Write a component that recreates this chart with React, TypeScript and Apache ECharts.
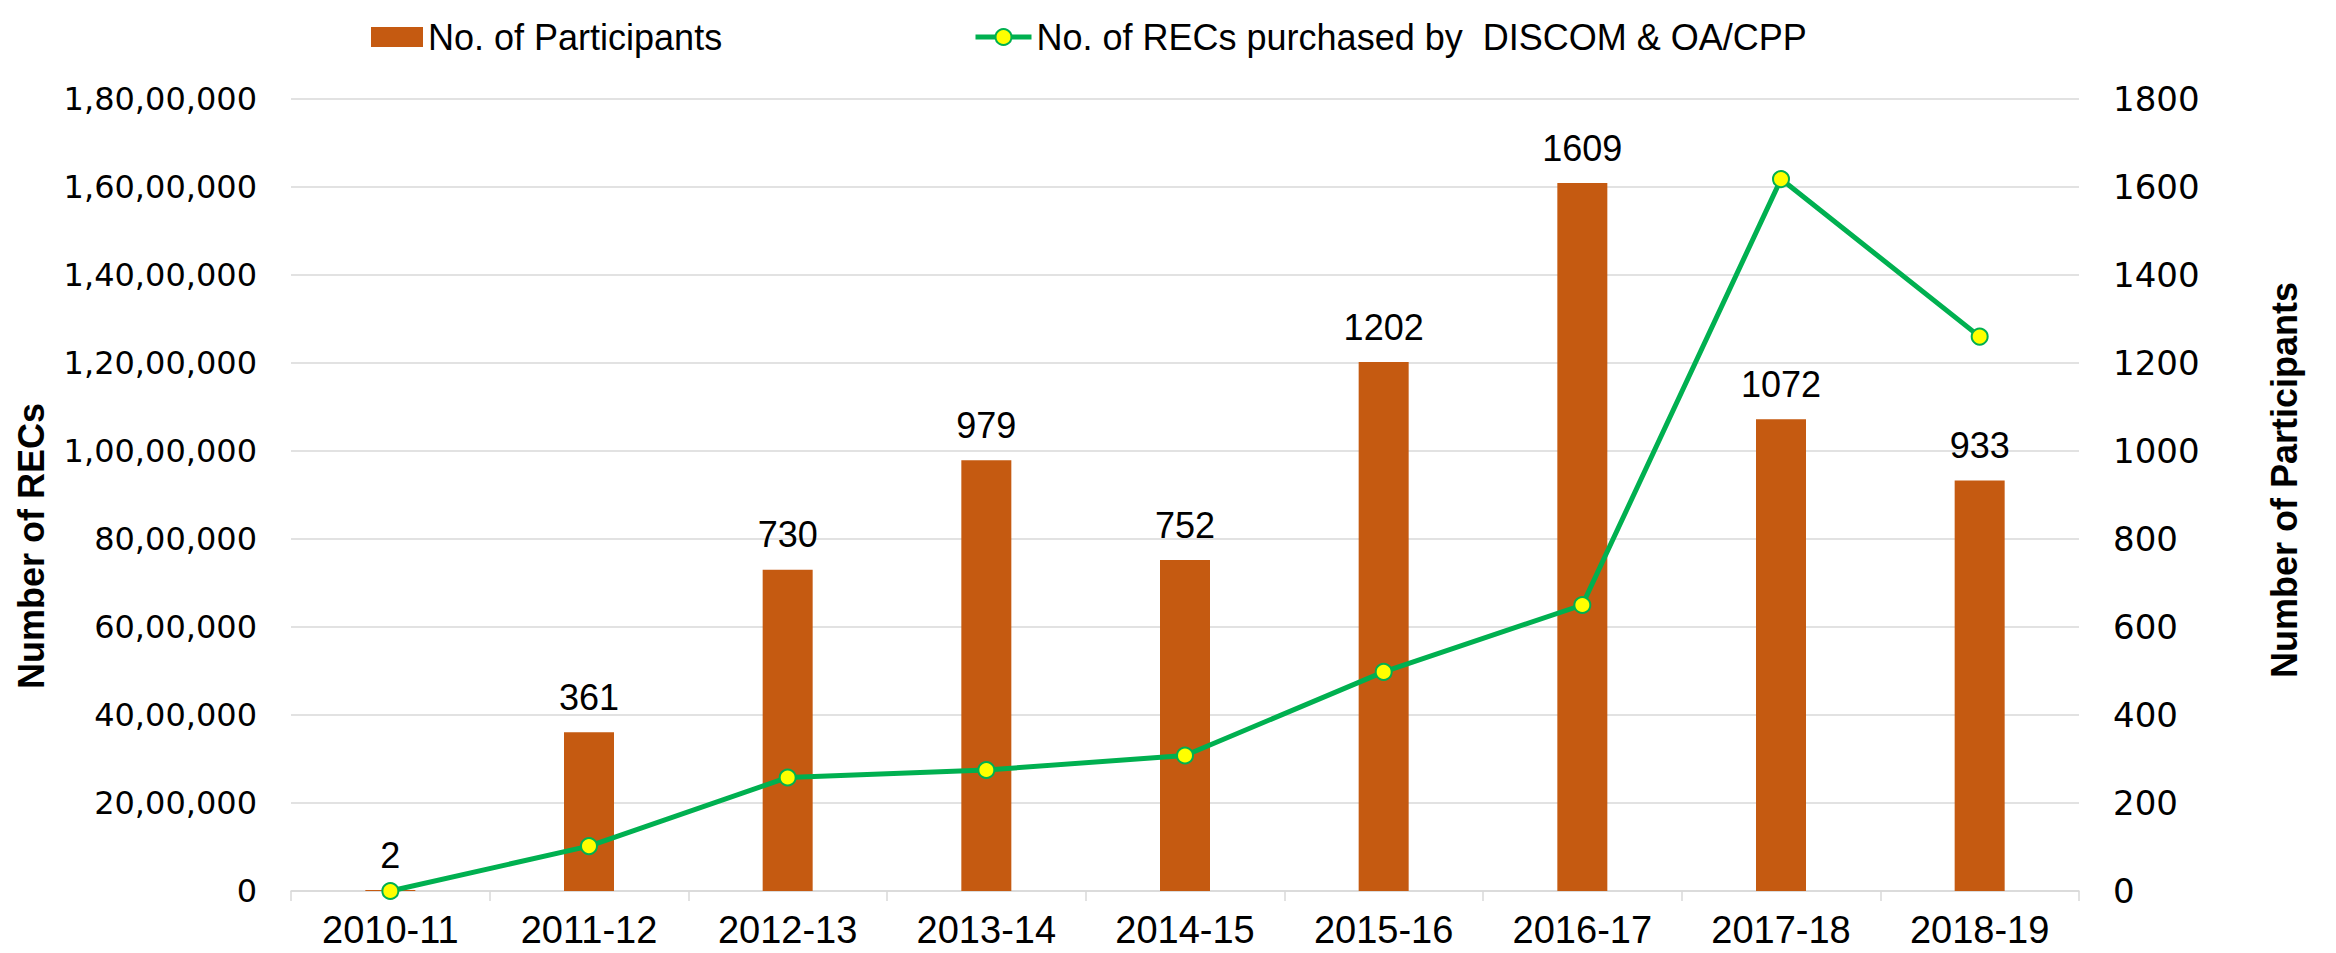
import React, { useEffect, useRef } from "react";
import * as echarts from "echarts";

const categories = ["2010-11", "2011-12", "2012-13", "2013-14", "2014-15", "2015-16", "2016-17", "2017-18", "2018-19"];
const participants = [2, 361, 730, 979, 752, 1202, 1609, 1072, 933];
const recsPurchased = [0, 1020000, 2580000, 2750000, 3080000, 4980000, 6500000, 16180000, 12600000];
const leftTicks = { min: 0, max: 18000000, interval: 2000000 };
const rightTicks = { min: 0, max: 1800, interval: 200 };

const barName = "No. of Participants";
const lineName = "No. of RECs purchased by  DISCOM & OA/CPP";
const leftTitle = "Number of RECs";
const rightTitle = "Number of Participants";

const FONT = "'Liberation Sans', Arial, Helvetica, sans-serif";
const TICKFONT = "'DejaVu Sans', Verdana, sans-serif";

function formatIndian(v: number): string {
  const s = Math.round(v).toString();
  if (s.length <= 3) return s;
  const last3 = s.slice(-3);
  let rest = s.slice(0, -3);
  const parts: string[] = [];
  while (rest.length > 2) {
    parts.unshift(rest.slice(-2));
    rest = rest.slice(0, -2);
  }
  if (rest.length) parts.unshift(rest);
  return parts.join(",") + "," + last3;
}

export default function App() {
  const ref = useRef<HTMLDivElement>(null);
  useEffect(() => {
    if (!ref.current) return;
    const chart = echarts.init(ref.current, undefined, { renderer: "svg" });
    chart.setOption({
      animation: false,
      backgroundColor: "#ffffff",
      textStyle: { fontFamily: FONT },
      grid: { left: 291, right: 257, top: 99, bottom: 62, containLabel: false },
      legend: [
        {
          data: [barName],
          left: 366,
          top: 14,
          itemWidth: 52,
          itemHeight: 20,
          itemGap: 9,
          icon: "rect",
          textStyle: { fontSize: 36, color: "#000", fontFamily: FONT },
        },
        {
          data: [lineName],
          left: 968,
          top: 14,
          itemWidth: 56,
          itemHeight: 20,
          lineStyle: { width: 5, color: "#00B050" },
          itemStyle: { color: "#FFFF00", borderColor: "#00B050", borderWidth: 2 },
          textStyle: { fontSize: 36, color: "#000", fontFamily: FONT },
        },
      ],
      xAxis: {
        type: "category",
        data: categories,
        axisLine: { show: true, lineStyle: { color: "#d9d9d9", width: 1.5 } },
        axisTick: { show: true, length: 10, lineStyle: { color: "#d9d9d9", width: 1.5 } },
        axisLabel: { color: "#000", fontSize: 38, margin: 20, fontFamily: FONT },
      },
      yAxis: [
        {
          type: "value",
          min: leftTicks.min,
          max: leftTicks.max,
          interval: leftTicks.interval,
          axisLine: { show: false },
          axisTick: { show: false },
          splitLine: { show: true, lineStyle: { color: "#d9d9d9", width: 1.5 } },
          axisLabel: { color: "#000", fontSize: 32, margin: 34, fontFamily: TICKFONT, formatter: (v: number) => formatIndian(v) },
        },
        {
          type: "value",
          min: rightTicks.min,
          max: rightTicks.max,
          interval: rightTicks.interval,
          axisLine: { show: false },
          axisTick: { show: false },
          splitLine: { show: false },
          axisLabel: { color: "#000", fontSize: 34, margin: 34, fontFamily: TICKFONT, formatter: (v: number) => String(v) },
        },
      ],
      series: [
        {
          name: barName,
          type: "bar",
          yAxisIndex: 1,
          data: participants,
          barWidth: 50,
          itemStyle: { color: "#C55A11" },
          label: {
            show: true,
            position: "top",
            distance: 17,
            color: "#000",
            fontSize: 36,
            fontFamily: FONT,
          },
          z: 2,
        },
        {
          name: lineName,
          type: "line",
          yAxisIndex: 0,
          data: recsPurchased,
          lineStyle: { color: "#00B050", width: 5 },
          itemStyle: { color: "#FFFF00", borderColor: "#00B050", borderWidth: 2 },
          symbol: "circle",
          symbolSize: 16,
          showSymbol: true,
          z: 3,
        },
      ],
      graphic: [
        {
          type: "text",
          x: 31,
          y: 546,
          rotation: Math.PI / 2,
          style: {
            text: leftTitle,
            fontSize: 36,
            fontWeight: "bold",
            fontFamily: FONT,
            fill: "#000",
            textAlign: "center",
            textVerticalAlign: "middle",
          },
        },
        {
          type: "text",
          x: 2284,
          y: 480,
          rotation: Math.PI / 2,
          style: {
            text: rightTitle,
            fontSize: 36,
            fontWeight: "bold",
            fontFamily: FONT,
            fill: "#000",
            textAlign: "center",
            textVerticalAlign: "middle",
          },
        },
      ],
    });
    return () => chart.dispose();
  }, []);
  return <div ref={ref} style={{ position: "absolute", left: 0, top: 0, width: 2336, height: 953 }} />;
}
